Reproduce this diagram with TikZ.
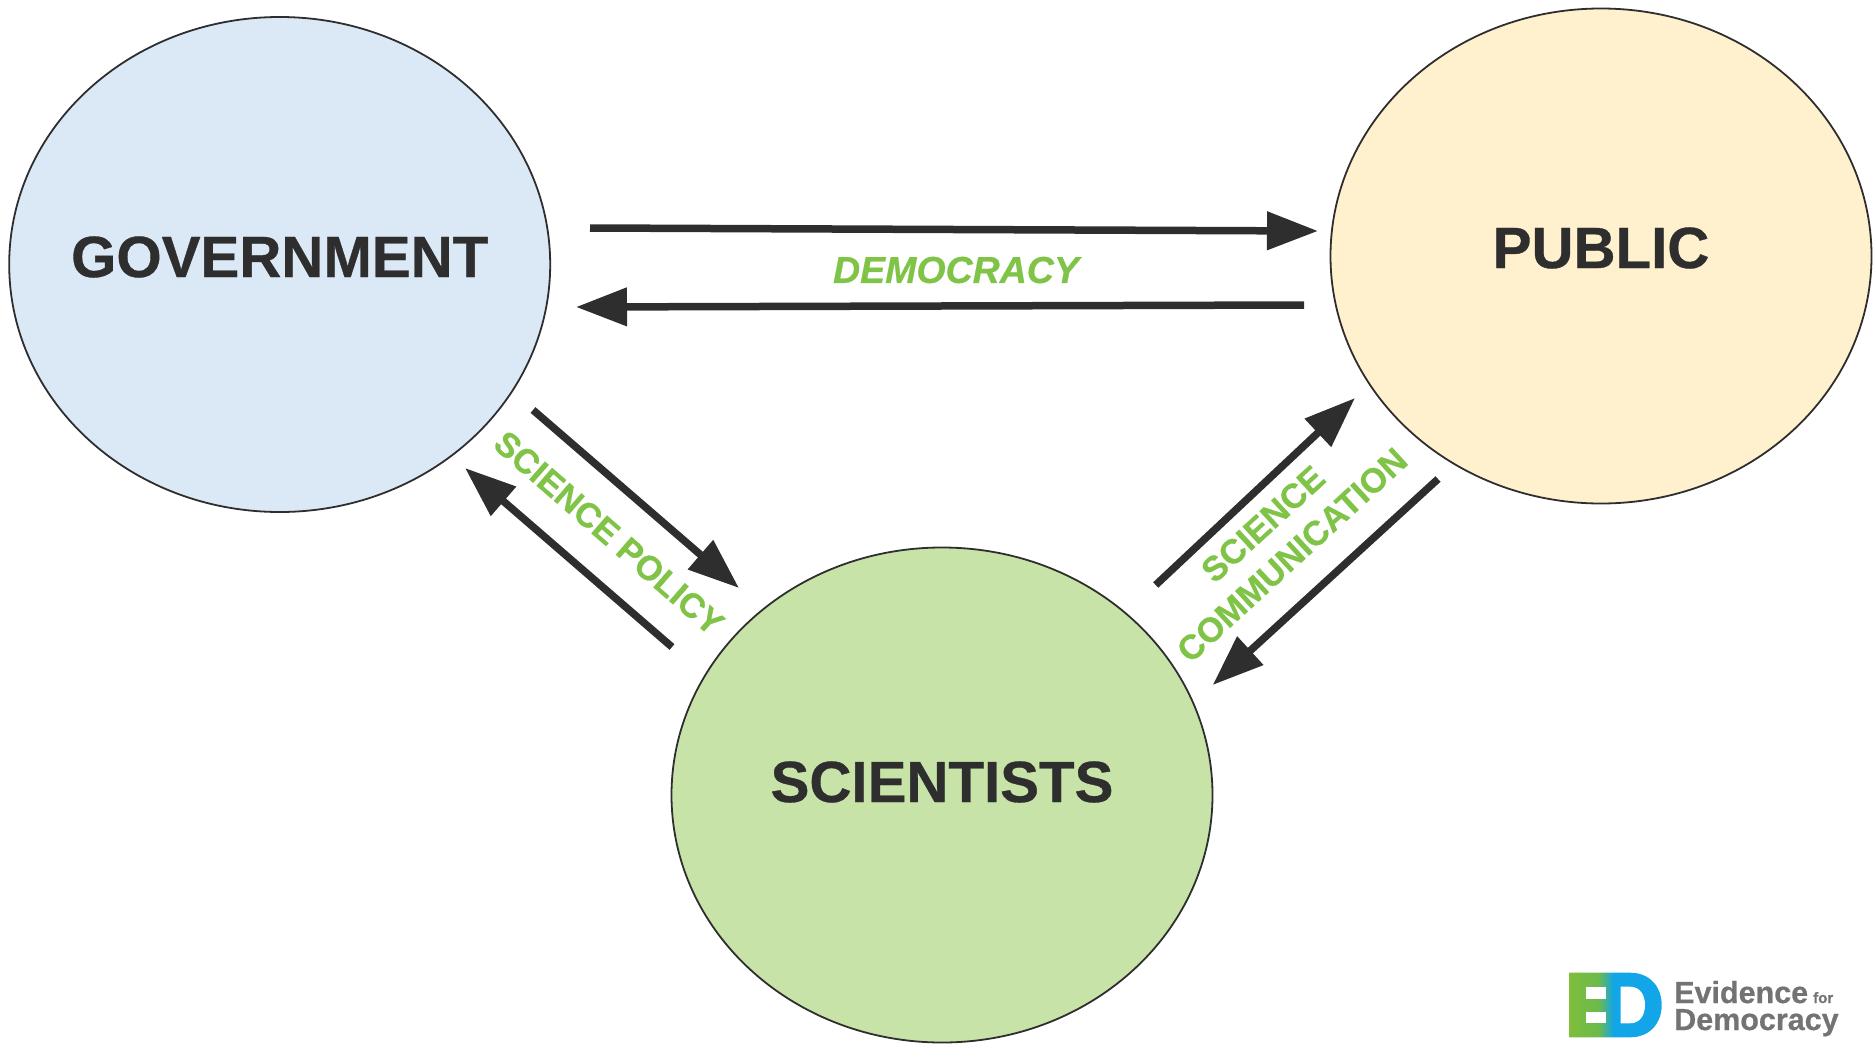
\documentclass[tikz,border=0pt]{standalone}
\usepackage{fontspec}
\setmainfont[BoldFeatures={FakeBold=0.6},BoldItalicFeatures={FakeBold=0.6}]{Liberation Sans}
\usetikzlibrary{arrows.meta,shapes.geometric}
\definecolor{ink}{HTML}{2E2E2E}
\definecolor{lab}{HTML}{7FC347}
\definecolor{govfill}{HTML}{DBE8F6}
\definecolor{pubfill}{HTML}{FFF1CD}
\definecolor{sciefill}{HTML}{C8E3A8}
\definecolor{logogray}{HTML}{737373}
\pgfdeclarehorizontalshading{edshade}{100bp}{rgb(0bp)=(0.50,0.74,0.23);rgb(25bp)=(0.50,0.74,0.23);rgb(41bp)=(0.42,0.73,0.30);rgb(49bp)=(0.07,0.65,0.91);rgb(100bp)=(0.07,0.65,0.91)}
\tikzset{
  party/.style={ellipse,draw=ink,line width=1.8pt,minimum width=541pt,minimum height=495pt,inner sep=0pt},
  title/.style={text=ink,font=\fontsize{58.2}{60}\selectfont\bfseries,inner sep=0pt},
  flow/.style={draw=ink,line width=7.5pt,-{Triangle[length=51pt,width=37pt]}},
  topic/.style={text=lab,font=\fontsize{37.5}{38}\selectfont\bfseries\itshape,inner sep=0pt,align=center},
  slanted/.style={text=lab,font=\fontsize{34.4}{38}\selectfont\bfseries,inner sep=0pt,align=center},
  logotxt/.style={text=logogray,inner sep=0pt,anchor=base west,font=\fontsize{30.5}{30}\selectfont\bfseries},
}
\begin{document}
\begin{tikzpicture}[x=1pt,y=-1pt]
\useasboundingbox (0,0) rectangle (1874,1044);
\node[party,fill=govfill] (gov) at (279.7,264.5) {};
\node[party,fill=pubfill] (pub) at (1601,256) {};
\node[party,fill=sciefill] (sci) at (942,795) {};
\node[title] (govt) at (279.7,257) {GOVERNMENT};
\node[title] (pubt) at (1601,248) {PUBLIC};
\node[title] (scit) at (942,782) {SCIENTISTS};
\coordinate (a1) at (590,228);   \coordinate (a2) at (1318,231);
\coordinate (b1) at (1304,305);  \coordinate (b2) at (576,307);
\coordinate (c1) at (533,410);   \coordinate (c2) at (739,588);
\coordinate (d1) at (672,647);   \coordinate (d2) at (465,468);
\coordinate (e1) at (1155.7,585);\coordinate (e2) at (1355,398);
\coordinate (f1) at (1438,479);  \coordinate (f2) at (1212.7,685);
\draw[flow] (a1) -- (a2);
\draw[flow] (b1) -- (b2);
\draw[flow] (c1) -- (c2);
\draw[flow] (d1) -- (d2);
\draw[flow] (e1) -- (e2);
\draw[flow] (f1) -- (f2);
\node[topic] (dem) at (956,270) {DEMOCRACY};
\node[slanted,rotate=-41] (pol) at (609,533) {SCIENCE POLICY};
\node[slanted,rotate=42.5] (com1) at (1263,524) {SCIENCE};
\node[slanted,rotate=42.5] (com2) at (1292,555) {COMMUNICATION};
% logo
\shade[shading=edshade] (1569.3,972.7) -- (1630,972.7) .. controls (1650,972.7) and (1661.7,987) .. (1661.7,1005) .. controls (1661.7,1023) and (1650,1037.3) .. (1630,1037.3) -- (1569.3,1037.3) -- cycle;
\fill[white] (1586,987.3) rectangle (1606,999.3);
\fill[white] (1586,1011.7) rectangle (1606,1023.3);
\fill[white] (1620.7,986.7) -- (1630,986.7) .. controls (1640,986.7) and (1645,995) .. (1645,1005) .. controls (1645,1015) and (1640,1023.3) .. (1630,1023.3) -- (1620.7,1023.3) -- cycle;
\node[logotxt] (ev) at (1674,1003) {Evidence};
\node[logotxt,font=\fontsize{15}{15}\selectfont\bfseries] (fo) at (1813,1003) {for};
\node[logotxt] (de) at (1674,1030) {Democracy};
\end{tikzpicture}
\end{document}
